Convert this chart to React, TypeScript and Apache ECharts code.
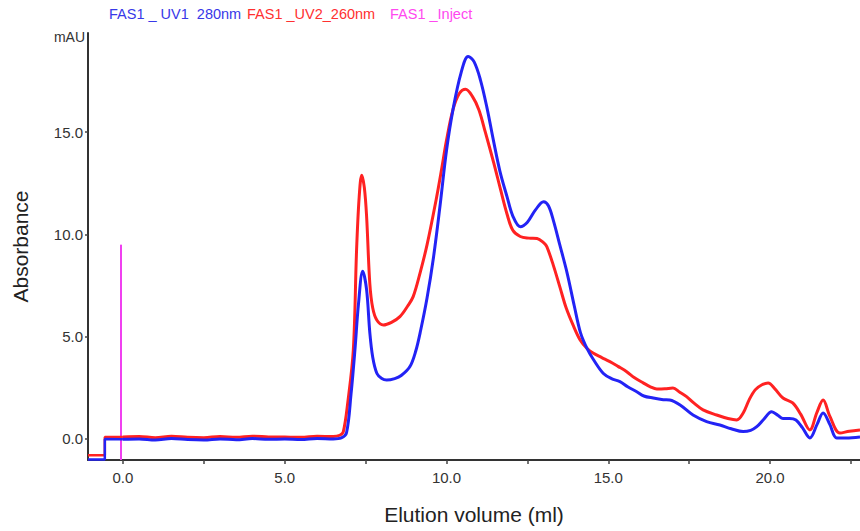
import React, { useEffect, useRef } from "react";
import * as echarts from "echarts";

const uv1Label = "FAS1 _ UV1  280nm";
const uv2Label = "FAS1 _UV2_260nm";
const injectLabel = "FAS1 _Inject";

const xTicks = [0, 2.5, 5, 7.5, 10, 12.5, 15, 17.5, 20, 22.5];
const xLabels = [0, 5, 10, 15, 20];
const yLabels = [0, 5, 10, 15];

// initial offset step before the sample baseline
const uv1Step: [number, number][] = [[-1.08, -1.0], [-0.56, -1.0], [-0.56, 0.0], [0, -0.02]];
const uv2Step: [number, number][] = [[-1.08, -0.8], [-0.56, -0.8], [-0.56, 0.1], [0, 0.1]];

const uv1Data: [number, number][] = [
  [0, -0.02], [0.5, 0.0], [1, -0.05], [1.5, 0.02],
  [2, -0.03], [2.5, -0.05], [3, 0.0], [3.5, -0.04], [4, 0.02], [4.5, -0.02], [5, 0.0],
  [5.5, -0.03], [6, 0.02], [6.5, 0.0], [6.75, 0.05], [6.91, 0.3], [7.05, 2.2], [7.17, 4.35],
  [7.28, 6.6], [7.41, 8.2], [7.53, 7.3], [7.63, 5.2], [7.72, 4.0], [7.85, 3.2], [8.0, 2.95],
  [8.15, 2.88], [8.4, 2.95], [8.6, 3.1], [8.87, 3.54], [9.05, 4.3], [9.2, 5.3], [9.4, 6.9],
  [9.6, 8.9], [9.8, 11.4], [10.0, 14.1], [10.2, 16.1], [10.45, 17.9],
  [10.67, 18.7], [10.85, 18.45], [11.05, 17.55], [11.25, 16.2], [11.45, 14.6], [11.65, 13.1],
  [11.87, 11.85], [12.05, 10.9], [12.28, 10.38], [12.5, 10.6], [12.75, 11.2], [13.0, 11.6],
  [13.15, 11.4], [13.3, 10.7], [13.5, 9.5], [13.73, 8.1], [13.95, 6.5], [14.14, 5.2],
  [14.35, 4.4], [14.55, 3.86], [14.85, 3.2], [15.1, 2.95], [15.36, 2.8], [15.6, 2.55],
  [15.88, 2.31], [16.1, 2.1], [16.39, 2.0], [16.7, 1.92], [16.9, 1.9], [17.22, 1.66],
  [17.62, 1.17], [18.04, 0.85], [18.45, 0.68], [18.8, 0.5], [19.17, 0.36], [19.4, 0.42],
  [19.59, 0.6], [19.8, 0.95], [20.05, 1.33], [20.25, 1.15], [20.4, 1.0], [20.6, 1.0],
  [20.8, 0.93], [21.0, 0.55], [21.23, 0.05], [21.45, 0.7], [21.64, 1.27], [21.85, 0.7],
  [22.06, 0.05], [22.35, 0.05], [22.78, 0.1],
];

const uv2Data: [number, number][] = [
  [0, 0.1], [0.5, 0.12], [1, 0.06], [1.5, 0.13],
  [2, 0.08], [2.5, 0.06], [3, 0.12], [3.5, 0.08], [4, 0.13], [4.5, 0.1], [5, 0.09],
  [5.5, 0.08], [6, 0.13], [6.5, 0.12], [6.7, 0.18], [6.81, 0.35], [6.95, 1.8], [7.12, 4.35],
  [7.22, 9.2], [7.3, 11.8], [7.38, 12.9], [7.46, 12.3], [7.53, 10.9], [7.63, 7.6],
  [7.72, 6.4], [7.85, 5.8], [8.05, 5.57], [8.3, 5.7], [8.56, 5.98], [8.8, 6.5], [8.97, 6.96],
  [9.18, 8.1], [9.4, 9.5], [9.68, 11.7], [9.85, 13.2], [10.0, 14.6], [10.2, 16.1],
  [10.4, 16.9], [10.59, 17.1], [10.8, 16.75], [11.0, 16.1], [11.2, 15.0], [11.46, 13.5],
  [11.67, 12.2], [11.87, 11.0], [12.05, 10.2], [12.28, 9.9], [12.55, 9.82], [12.8, 9.8],
  [13.0, 9.6], [13.1, 9.4], [13.3, 8.5], [13.51, 7.4], [13.7, 6.4], [13.93, 5.5],
  [14.13, 4.84], [14.33, 4.45], [14.53, 4.2], [14.8, 3.98], [15.05, 3.78], [15.3, 3.55],
  [15.57, 3.29], [15.8, 3.0], [16.08, 2.74], [16.3, 2.55], [16.5, 2.44], [16.75, 2.45],
  [17.0, 2.49], [17.2, 2.3], [17.42, 2.07], [17.65, 1.75], [17.93, 1.42], [18.35, 1.17],
  [18.7, 1.0], [18.97, 0.93], [19.17, 1.27], [19.35, 1.9], [19.54, 2.4], [19.75, 2.65],
  [19.94, 2.74], [20.15, 2.45], [20.4, 2.0], [20.7, 1.76], [20.95, 1.2], [21.23, 0.44],
  [21.45, 1.3], [21.64, 1.9], [21.85, 1.1], [22.16, 0.29], [22.45, 0.38], [22.78, 0.44],
];

const injectData: [number, number][] = [
  [-0.06, -1.03],
  [-0.06, 9.5],
];

const BLUE = "#2323f5";
const RED = "#ff2222";
const MAGENTA = "#f040f0";
const FONT = "'Liberation Sans', Arial, sans-serif";

export default function App() {
  const ref = useRef<HTMLDivElement>(null);

  useEffect(() => {
    if (!ref.current) return;
    const chart = echarts.init(ref.current, undefined, { renderer: "svg" });
    const lineBase = { type: "line", showSymbol: false };
    chart.setOption({
      animation: false,
      backgroundColor: "#ffffff",
      textStyle: { fontFamily: FONT },
      grid: { left: 88, right: 0, top: 33, bottom: 71 },
      xAxis: {
        type: "value",
        min: -1.08,
        max: 22.78,
        name: "Elution volume (ml)",
        nameLocation: "middle",
        nameGap: 44,
        nameTextStyle: { fontSize: 21, color: "#222", fontFamily: FONT },
        axisLine: { show: true, onZero: false, lineStyle: { color: "#333", width: 2 } },
        axisTick: {
          show: true,
          customValues: xTicks,
          length: 4,
          lineStyle: { color: "#444", width: 1.5 },
        },
        axisLabel: {
          customValues: xLabels,
          formatter: (v: number) => v.toFixed(1),
          fontSize: 15,
          color: "#333",
          margin: 10,
          fontFamily: FONT,
        },
        splitLine: { show: false },
      },
      yAxis: {
        type: "value",
        min: -1.03,
        max: 19.85,
        name: "Absorbance",
        nameLocation: "middle",
        nameGap: 57,
        nameRotate: 90,
        nameTextStyle: { fontSize: 21, color: "#222", fontFamily: FONT },
        axisLine: { show: true, onZero: false, lineStyle: { color: "#333", width: 2 } },
        axisTick: {
          show: true,
          customValues: yLabels,
          length: 3,
          lineStyle: { color: "#444", width: 1.5 },
        },
        axisLabel: {
          customValues: yLabels,
          formatter: (v: number) => v.toFixed(1),
          fontSize: 15,
          color: "#333",
          margin: 5,
          fontFamily: FONT,
        },
        splitLine: { show: false },
      },
      graphic: [
        {
          type: "text",
          left: 109,
          top: 6,
          style: { text: uv1Label, fill: "#3838e8", font: `14.5px ${FONT}` },
        },
        {
          type: "text",
          left: 247,
          top: 6,
          style: { text: uv2Label, fill: "#ff3030", font: `14.5px ${FONT}` },
        },
        {
          type: "text",
          left: 390,
          top: 6,
          style: { text: injectLabel, fill: "#ff48f0", font: `14.5px ${FONT}` },
        },
        {
          type: "text",
          right: 860 - 85,
          top: 30,
          style: { text: "mAU", fill: "#333", font: `14px ${FONT}` },
        },
      ],
      series: [
        {
          ...lineBase,
          name: injectLabel,
          data: injectData,
          lineStyle: { color: MAGENTA, width: 2 },
          itemStyle: { color: MAGENTA },
          z: 1,
        },
        {
          ...lineBase,
          name: uv2Label,
          data: uv2Step,
          lineStyle: { color: RED, width: 2.5 },
          itemStyle: { color: RED },
          z: 2,
        },
        {
          ...lineBase,
          name: uv1Label,
          data: uv1Step,
          lineStyle: { color: BLUE, width: 2.5 },
          itemStyle: { color: BLUE },
          z: 3,
        },
        {
          ...lineBase,
          name: uv2Label,
          data: uv2Data,
          smooth: 0.35,
          lineStyle: { color: RED, width: 3 },
          itemStyle: { color: RED },
          z: 2,
        },
        {
          ...lineBase,
          name: uv1Label,
          data: uv1Data,
          smooth: 0.35,
          lineStyle: { color: BLUE, width: 3 },
          itemStyle: { color: BLUE },
          z: 3,
        },
      ],
    });
    return () => chart.dispose();
  }, []);

  return <div ref={ref} style={{ width: 860, height: 531, position: "absolute", left: 0, top: 0 }} />;
}
